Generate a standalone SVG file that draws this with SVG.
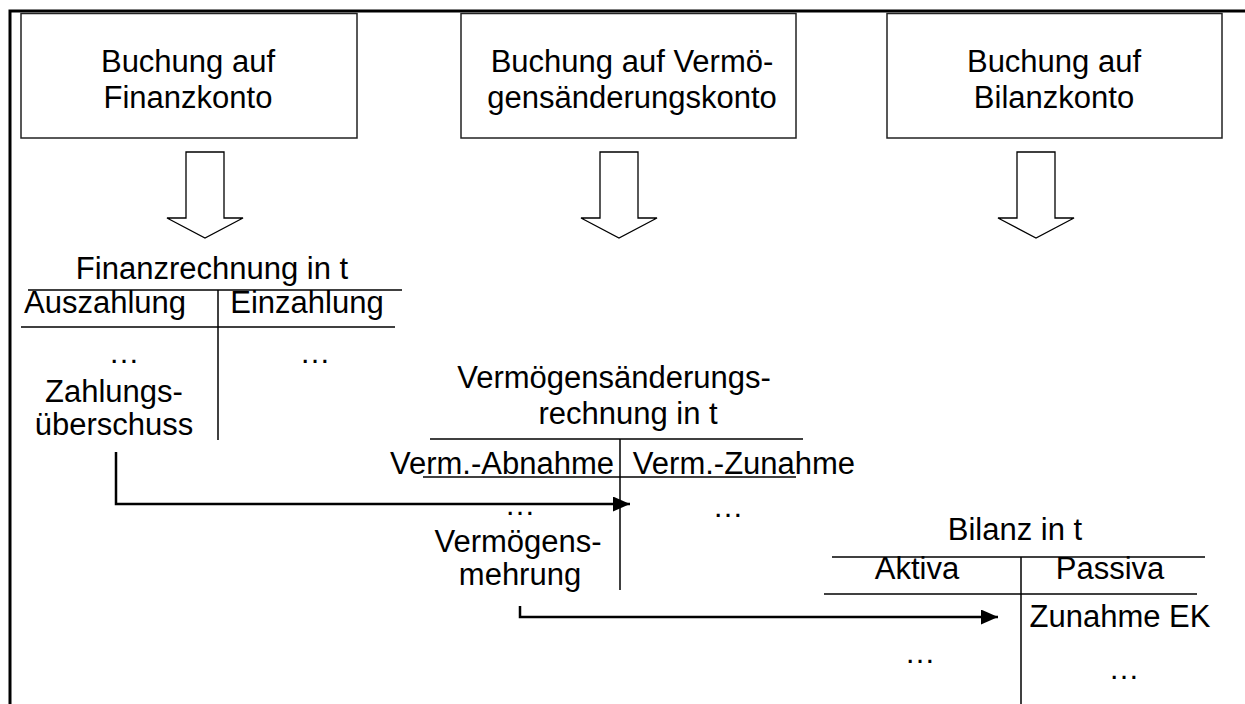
<svg xmlns="http://www.w3.org/2000/svg" width="1245" height="704" viewBox="0 0 1245 704">
<defs>
<marker id="ah" markerUnits="userSpaceOnUse" markerWidth="17" markerHeight="15" refX="17" refY="7.5" orient="auto"><path d="M0,0 L17,7.5 L0,15 z" fill="#000"/></marker>
</defs>
<style>
text{font-family:"Liberation Sans",Arial,sans-serif;font-size:31px;fill:#000}
.m{text-anchor:middle}
.box{fill:#fff;stroke:#222;stroke-width:1.5}
.hol{fill:#fff;stroke:#000;stroke-width:1.3}
.tl{stroke:#000;stroke-width:1.5;fill:none}
.conn{stroke:#000;stroke-width:2.5;fill:none}
.frame{stroke:#000;stroke-width:3;fill:none}
</style>
<path class="frame" d="M10,704 V11 H1245"/>
<g id="box-finanzkonto">
<rect class="box" x="21" y="13.5" width="336" height="124.5"/>
<text class="m" x="188" y="72">Buchung auf</text>
<text class="m" x="188" y="108">Finanzkonto</text>
</g>
<g id="box-vermoegenskonto">
<rect class="box" x="461" y="13.5" width="335" height="124.5"/>
<text class="m" x="632" y="72">Buchung auf Vermö-</text>
<text class="m" x="632" y="108">gensänderungskonto</text>
</g>
<g id="box-bilanzkonto">
<rect class="box" x="887" y="13.5" width="335" height="124.5"/>
<text class="m" x="1054" y="72">Buchung auf</text>
<text class="m" x="1054" y="108">Bilanzkonto</text>
</g>
<g id="arrow-1"><polygon class="hol" points="186,152 224,152 224,218 243,218 205,238 167,218 186,218"/></g>
<g id="arrow-2"><polygon class="hol" points="600,152 638,152 638,218 657,218 619,238 581,218 600,218"/></g>
<g id="arrow-3"><polygon class="hol" points="1017,152 1055,152 1055,218 1074,218 1036,238 998,218 1017,218"/></g>
<g id="finanzrechnung">
<text class="m" x="212" y="279">Finanzrechnung in t</text>
<line class="tl" x1="28" y1="290" x2="402" y2="290"/>
<text class="m" x="105" y="313">Auszahlung</text>
<text class="m" x="307" y="313">Einzahlung</text>
<line class="tl" x1="21" y1="327" x2="395" y2="327"/>
<line class="tl" x1="218" y1="290" x2="218" y2="440"/>
<text class="m" x="124" y="363">…</text>
<text class="m" x="315" y="363">…</text>
<text class="m" x="114" y="402">Zahlungs-</text>
<text class="m" x="114" y="435">überschuss</text>
</g>
<g id="vermoegensaenderungsrechnung">
<text class="m" x="614" y="388">Vermögensänderungs-</text>
<text class="m" x="628" y="424">rechnung in t</text>
<line class="tl" x1="430" y1="439" x2="803" y2="439"/>
<text class="m" x="502" y="474">Verm.-Abnahme</text>
<text class="m" x="744" y="474">Verm.-Zunahme</text>
<line class="tl" x1="423" y1="477" x2="796" y2="477"/>
<line class="tl" x1="620" y1="439" x2="620" y2="590"/>
<text class="m" x="520" y="515">…</text>
<text class="m" x="728" y="517">…</text>
<text class="m" x="518" y="552">Vermögens-</text>
<text class="m" x="520" y="585">mehrung</text>
</g>
<g id="bilanz">
<text class="m" x="1015" y="540">Bilanz in t</text>
<line class="tl" x1="832" y1="557" x2="1205" y2="557"/>
<text class="m" x="917" y="579">Aktiva</text>
<text class="m" x="1110" y="579">Passiva</text>
<line class="tl" x1="824" y1="594" x2="1197" y2="594"/>
<line class="tl" x1="1021" y1="557" x2="1021" y2="704"/>
<text class="m" x="1120" y="627">Zunahme EK</text>
<text class="m" x="920" y="663">…</text>
<text class="m" x="1124" y="679">…</text>
</g>
<g id="connectors">
<path class="conn" d="M116,452 V504 H630" marker-end="url(#ah)"/>
<path class="conn" d="M520,606 V617 H998" marker-end="url(#ah)"/>
</g>
</svg>
